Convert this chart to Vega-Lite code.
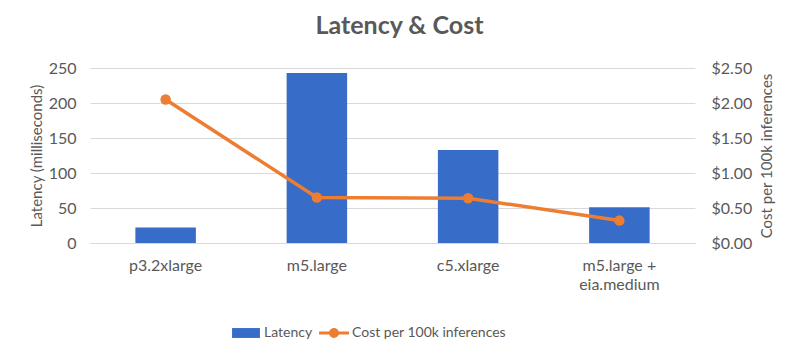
{
  "$schema": "https://vega.github.io/schema/vega-lite/v6.json",
  "width": 605,
  "height": 175,
  "autosize": {"type": "none"},
  "padding": {"left": 90, "top": 68, "right": 105, "bottom": 109},
  "background": "white",
  "title": {"text": "Latency & Cost", "font": "Lato", "fontSize": 25, "fontWeight": "bold", "color": "#595959", "offset": 21, "anchor": "middle", "dx": 7},
  "config": {
    "view": {"stroke": null},
    "axis": {"labelFont": "Lato", "labelFontSize": 16, "labelColor": "#595959", "titleFont": "Lato", "titleFontSize": 15, "titleFontWeight": "normal", "titleColor": "#595959", "gridColor": "#D9D9D9", "gridWidth": 1, "domain": false, "ticks": false},
    "legend": {"labelFont": "Lato", "labelFontSize": 14, "labelColor": "#595959", "labelLimit": 0}
  },
  "data": {"values": [
    {"instance": "p3.2xlarge", "latency": 22, "cost": 2.05},
    {"instance": "m5.large", "latency": 243, "cost": 0.65},
    {"instance": "c5.xlarge", "latency": 133, "cost": 0.64},
    {"instance": "m5.large + eia.medium", "latency": 51, "cost": 0.32}
  ]},
  "encoding": {
    "x": {"field": "instance", "type": "nominal", "sort": null,
      "scale": {"paddingInner": 0.6, "paddingOuter": 0.3},
      "axis": {"title": null, "labelAngle": 0, "labelPadding": 14, "labelLineHeight": 19, "domain": true, "domainColor": "#D9D9D9", "labelExpr": "datum.value === 'm5.large + eia.medium' ? ['m5.large +', 'eia.medium'] : datum.value"}}
  },
  "layer": [
    {
      "mark": {"type": "bar", "color": "#376CC8"},
      "encoding": {
        "y": {"field": "latency", "type": "quantitative", "scale": {"domain": [0, 250]},
          "axis": {"title": "Latency (milliseconds)", "values": [0, 50, 100, 150, 200, 250], "grid": true, "labelPadding": 14, "titlePadding": 4}},
        "color": {"datum": "Latency", "type": "nominal",
          "scale": {"domain": ["Latency", "Cost per 100k inferences"], "range": ["#376CC8", "#ED7D31"]},
          "legend": {"title": null, "orient": "none", "legendX": 141, "legendY": 250, "direction": "horizontal", "symbolSize": 900, "labelOffset": 3, "columnPadding": 6,
            "encode": {"symbols": {"update": {
              "shape": {"signal": "datum.value === 'Latency' ? 'M-0.93,-0.33L0.93,-0.33L0.93,0.33L-0.93,0.33Z' : 'M-1,-0.1L1,-0.1L1,0.1L-1,0.1Z M0.33,0A0.33,0.33 0 1 1 -0.33,0A0.33,0.33 0 1 1 0.33,0Z'"},
              "fill": {"signal": "datum.value === 'Latency' ? '#376CC8' : '#ED7D31'"},
              "strokeWidth": {"value": 0},
              "opacity": {"value": 1}
            }}}}
        }
      }
    },
    {
      "encoding": {
        "y": {"field": "cost", "type": "quantitative", "scale": {"domain": [0, 2.5]},
          "axis": {"orient": "right", "title": "Cost per 100k inferences", "titleAngle": 270, "titleBaseline": "top", "format": "$.2f", "values": [0, 0.5, 1, 1.5, 2, 2.5], "grid": false, "labelPadding": 16, "titlePadding": 8}},
        "color": {"datum": "Cost per 100k inferences", "type": "nominal"}
      },
      "layer": [
        {"mark": {"type": "line", "strokeWidth": 3.5}},
        {"mark": {"type": "point", "filled": true, "size": 110, "opacity": 1}}
      ]
    }
  ],
  "resolve": {"scale": {"y": "independent"}}
}
